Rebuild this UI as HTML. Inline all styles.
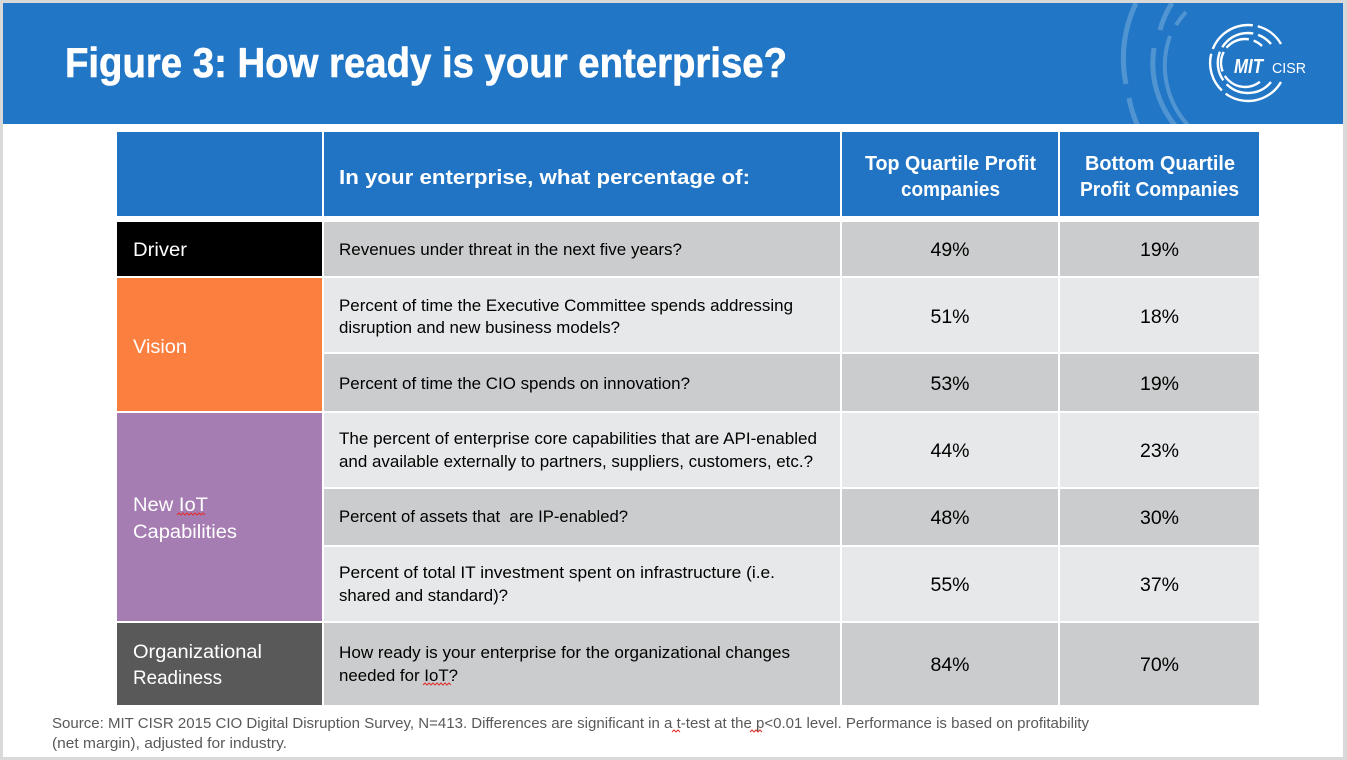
<!DOCTYPE html>
<html>
<head>
<meta charset="utf-8">
<style>
  html,body{margin:0;padding:0;background:#ffffff;}
  svg{display:block;}
  text{font-family:"Liberation Sans",Arial,sans-serif;}
</style>
</head>
<body>
<svg width="1347" height="760" viewBox="0 0 1347 760" xmlns="http://www.w3.org/2000/svg">
  <!-- outer frame -->
  <rect x="0" y="0" width="1347" height="760" fill="#d9d9d9"/>
  <rect x="3" y="3" width="1340" height="754" fill="#ffffff"/>

  <!-- title band -->
  <rect x="3" y="3" width="1340" height="121" fill="#2176c6"/>
  <defs>
    <clipPath id="band"><rect x="3" y="3" width="1340" height="121"/></clipPath>
  </defs>
  <g clip-path="url(#band)" fill="none" stroke="#ffffff" stroke-opacity="0.22">
    <path d="M 1136 3 A 127 127 0 0 0 1126 84" stroke-width="5"/>
    <path d="M 1129 98 A 127 127 0 0 0 1160 160" stroke-width="5"/>
    <path d="M 1172 3 A 98 98 0 0 0 1160 30" stroke-width="5"/>
    <path d="M 1154 48 A 98 98 0 0 0 1190 140" stroke-width="5"/>
    <path d="M 1186 12 A 88 88 0 0 0 1176 25" stroke-width="4"/>
    <path d="M 1170 36 A 88 88 0 0 0 1195 132" stroke-width="4"/>
  </g>

  <!-- logo -->
  <g fill="none" stroke="#ffffff" stroke-width="2.4" stroke-linecap="butt">
    <path d="M 1281 44 A 38 38 0 1 0 1281 82" stroke-dasharray="30 5 50 5 40 5 70"/>
    <path d="M 1271 44 A 30 30 0 1 0 1271 82" stroke-dasharray="16 5 36 5 30 5 60"/>
    <path d="M 1262 46 A 24 24 0 1 0 1262 80" stroke-dasharray="10 5 25 5 20 5 40"/>
  </g>
  <text x="1234" y="73" font-size="20" font-weight="bold" font-style="italic" fill="#ffffff" textLength="29" lengthAdjust="spacingAndGlyphs">MIT</text>
  <text x="1272" y="73" font-size="15" fill="#ffffff" textLength="34" lengthAdjust="spacingAndGlyphs">CISR</text>

  <!-- title -->
  <text x="65" y="77" font-size="42" font-weight="bold" fill="#ffffff" stroke="#ffffff" stroke-width="0.6" textLength="722" lengthAdjust="spacingAndGlyphs">Figure 3: How ready is your enterprise?</text>

  <!-- header row -->
  <rect x="117" y="132" width="205" height="84" fill="#2174c4"/>
  <rect x="324" y="132" width="516" height="84" fill="#2174c4"/>
  <rect x="842" y="132" width="216" height="84" fill="#2174c4"/>
  <rect x="1060" y="132" width="199" height="84" fill="#2174c4"/>
  <text x="339" y="184" font-size="20.5" font-weight="bold" fill="#ffffff" textLength="411" lengthAdjust="spacingAndGlyphs">In your enterprise, what percentage of:</text>
  <text x="865" y="170" font-size="20.5" font-weight="bold" fill="#ffffff" textLength="171" lengthAdjust="spacingAndGlyphs">Top Quartile Profit</text>
  <text x="901" y="196" font-size="20.5" font-weight="bold" fill="#ffffff" textLength="99" lengthAdjust="spacingAndGlyphs">companies</text>
  <text x="1085" y="170" font-size="20.5" font-weight="bold" fill="#ffffff" textLength="150" lengthAdjust="spacingAndGlyphs">Bottom Quartile</text>
  <text x="1080" y="196" font-size="20.5" font-weight="bold" fill="#ffffff" textLength="159" lengthAdjust="spacingAndGlyphs">Profit Companies</text>

  <!-- left category cells -->
  <rect x="117" y="222" width="205" height="54" fill="#000000"/>
  <rect x="117" y="278" width="205" height="133" fill="#fb7f3f"/>
  <rect x="117" y="413" width="205" height="208" fill="#a67db2"/>
  <rect x="117" y="623" width="205" height="82" fill="#595959"/>

  <!-- body rows -->
  <rect x="324" y="222" width="516" height="54" fill="#cbcccd"/>
  <rect x="842" y="222" width="216" height="54" fill="#cbcccd"/>
  <rect x="1060" y="222" width="199" height="54" fill="#cbcccd"/>

  <rect x="324" y="278" width="516" height="74" fill="#e7e8e9"/>
  <rect x="842" y="278" width="216" height="74" fill="#e7e8e9"/>
  <rect x="1060" y="278" width="199" height="74" fill="#e7e8e9"/>

  <rect x="324" y="354" width="516" height="57" fill="#cbcccd"/>
  <rect x="842" y="354" width="216" height="57" fill="#cbcccd"/>
  <rect x="1060" y="354" width="199" height="57" fill="#cbcccd"/>

  <rect x="324" y="413" width="516" height="74" fill="#e7e8e9"/>
  <rect x="842" y="413" width="216" height="74" fill="#e7e8e9"/>
  <rect x="1060" y="413" width="199" height="74" fill="#e7e8e9"/>

  <rect x="324" y="489" width="516" height="56" fill="#cbcccd"/>
  <rect x="842" y="489" width="216" height="56" fill="#cbcccd"/>
  <rect x="1060" y="489" width="199" height="56" fill="#cbcccd"/>

  <rect x="324" y="547" width="516" height="74" fill="#e7e8e9"/>
  <rect x="842" y="547" width="216" height="74" fill="#e7e8e9"/>
  <rect x="1060" y="547" width="199" height="74" fill="#e7e8e9"/>

  <rect x="324" y="623" width="516" height="82" fill="#cbcccd"/>
  <rect x="842" y="623" width="216" height="82" fill="#cbcccd"/>
  <rect x="1060" y="623" width="199" height="82" fill="#cbcccd"/>

  <!-- left labels -->
  <g fill="#ffffff" font-size="19">
    <text x="133" y="256" textLength="54" lengthAdjust="spacingAndGlyphs">Driver</text>
    <text x="133" y="353" textLength="54" lengthAdjust="spacingAndGlyphs">Vision</text>
    <text x="133" y="511" textLength="75" lengthAdjust="spacingAndGlyphs">New IoT</text>
    <text x="133" y="538" textLength="104" lengthAdjust="spacingAndGlyphs">Capabilities</text>
    <text x="133" y="658" textLength="129" lengthAdjust="spacingAndGlyphs">Organizational</text>
    <text x="133" y="684" textLength="89" lengthAdjust="spacingAndGlyphs">Readiness</text>
  </g>

  <!-- question text -->
  <g fill="#000000" font-size="17">
    <text x="339" y="255" textLength="343" lengthAdjust="spacingAndGlyphs">Revenues under threat in the next five years?</text>
    <text x="339" y="311" textLength="454" lengthAdjust="spacingAndGlyphs">Percent of time the Executive Committee spends addressing</text>
    <text x="339" y="333" textLength="281" lengthAdjust="spacingAndGlyphs">disruption and new business models?</text>
    <text x="339" y="389" textLength="351" lengthAdjust="spacingAndGlyphs">Percent of time the CIO spends on innovation?</text>
    <text x="339" y="444" textLength="478" lengthAdjust="spacingAndGlyphs">The percent of enterprise core capabilities that are API-enabled</text>
    <text x="339" y="467" textLength="474" lengthAdjust="spacingAndGlyphs">and available externally to partners, suppliers, customers, etc.?</text>
    <text x="339" y="522" textLength="289" lengthAdjust="spacingAndGlyphs" xml:space="preserve">Percent of assets that  are IP-enabled?</text>
    <text x="339" y="578" textLength="436" lengthAdjust="spacingAndGlyphs">Percent of total IT investment spent on infrastructure (i.e.</text>
    <text x="339" y="601" textLength="169" lengthAdjust="spacingAndGlyphs">shared and standard)?</text>
    <text x="339" y="658" textLength="451" lengthAdjust="spacingAndGlyphs">How ready is your enterprise for the organizational changes</text>
    <text x="339" y="681" textLength="119" lengthAdjust="spacingAndGlyphs">needed for IoT?</text>
  </g>

  <!-- numbers -->
  <g fill="#000000" font-size="19.5" text-anchor="middle">
    <text x="950" y="256">49%</text>
    <text x="1159.5" y="256">19%</text>
    <text x="950" y="323">51%</text>
    <text x="1159.5" y="323">18%</text>
    <text x="950" y="390">53%</text>
    <text x="1159.5" y="390">19%</text>
    <text x="950" y="457">44%</text>
    <text x="1159.5" y="457">23%</text>
    <text x="950" y="524">48%</text>
    <text x="1159.5" y="524">30%</text>
    <text x="950" y="591">55%</text>
    <text x="1159.5" y="591">37%</text>
    <text x="950" y="671">84%</text>
    <text x="1159.5" y="671">70%</text>
  </g>

  <!-- spellcheck squiggles -->
  <g fill="none" stroke="#e03030" stroke-width="1">
    <polyline points="177,515 179,513 181,515 183,513 185,515 187,513 189,515 191,513 193,515 195,513 197,515 199,513 201,515 203,513 205,515"/>
    <polyline points="423,685 425,683 427,685 429,683 431,685 433,683 435,685 437,683 439,685 441,683 443,685 445,683 447,685 449,683 451,685"/>
    <polyline points="672,732 674,730 676,732 678,730 680,732"/>
    <polyline points="750,732 752,730 754,732 756,730 758,732 760,730 762,732"/>
  </g>

  <!-- footer -->
  <g fill="#595959" font-size="14.5">
    <text x="52" y="728" textLength="1037" lengthAdjust="spacingAndGlyphs">Source: MIT CISR 2015 CIO Digital Disruption Survey, N=413. Differences are significant in a t-test at the p&lt;0.01 level. Performance is based on profitability</text>
    <text x="52" y="748" textLength="235" lengthAdjust="spacingAndGlyphs">(net margin), adjusted for industry.</text>
  </g>
</svg>
</body>
</html>
